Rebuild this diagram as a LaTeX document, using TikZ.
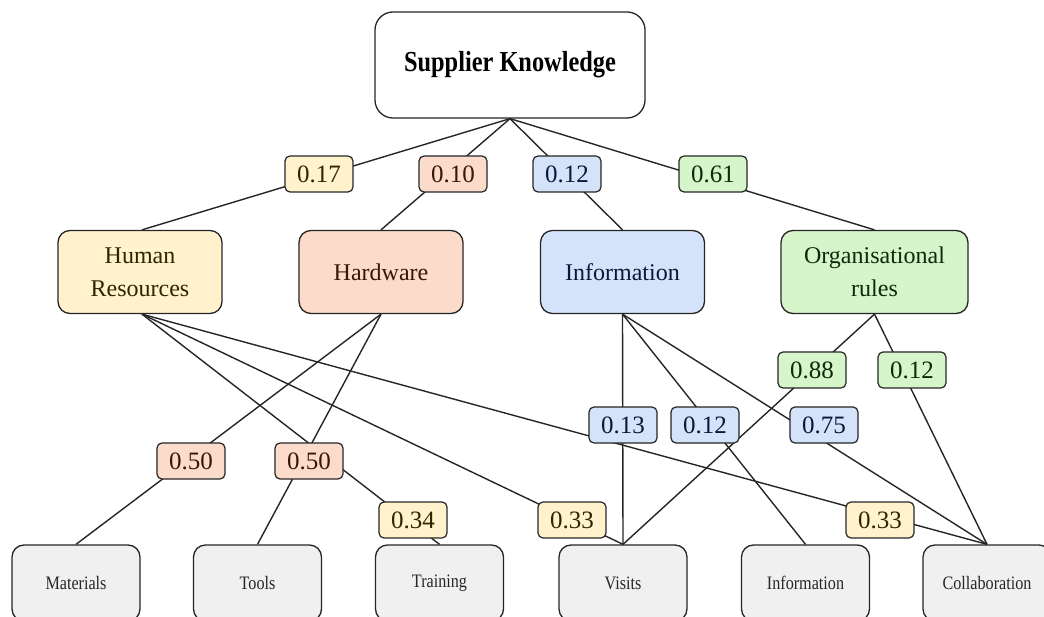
\documentclass[tikz,border=0pt]{standalone}
\usepackage{fontspec}
\setmainfont{Liberation Serif}
\newfontfamily\titlefont{Liberation Serif Bold}[FakeStretch=0.84]
\newfontfamily\leaffont{Liberation Serif}[FakeStretch=0.85]

\definecolor{hrfill}{HTML}{FFF2CC}
\definecolor{hwfill}{HTML}{FBDCCB}
\definecolor{infofill}{HTML}{D4E2FA}
\definecolor{orgfill}{HTML}{D7F5CB}
\definecolor{leaffill}{HTML}{F0F0F0}
\definecolor{edgecol}{HTML}{262626}
\definecolor{hrtext}{HTML}{2E2600}
\definecolor{hwtext}{HTML}{3A1608}
\definecolor{infotext}{HTML}{0C1838}
\definecolor{orgtext}{HTML}{0E2A0A}

\tikzset{
  box/.style={draw=edgecol, line width=1.3pt, rounded corners=12pt, align=center,
    inner sep=0pt},
  rootbox/.style={box, rounded corners=18pt, minimum width=270pt, minimum height=106pt,
    font=\titlefont\fontsize{29}{34}\selectfont},
  catbox/.style={box, minimum width=164pt, minimum height=83pt,
    font=\fontsize{24}{33}\selectfont},
  leafbox/.style={box, fill=leaffill, minimum width=128pt, minimum height=76pt,
    font=\leaffont\fontsize{19}{22}\selectfont, text=black!85},
  weight/.style={draw=edgecol, line width=1.2pt, rounded corners=5pt, minimum width=68pt,
    minimum height=36pt, inner sep=0pt, font=\fontsize{25}{30}\selectfont},
  hrw/.style={weight, fill=hrfill, text=hrtext},
  hww/.style={weight, fill=hwfill, text=hwtext},
  infow/.style={weight, fill=infofill, text=infotext},
  orgw/.style={weight, fill=orgfill, text=orgtext},
  link/.style={draw=edgecol, line width=1.4pt}
}

\begin{document}
\begin{tikzpicture}[x=1pt, y=-1pt]
  \useasboundingbox (0,0) rectangle (1044,617);
  \fill[white] (0,0) rectangle (1044,617);

  % root
  \node[rootbox, fill=white] (root) at (510,65) {Supplier Knowledge};

  % categories
  \node[catbox, fill=hrfill, text=hrtext] (hr) at (140,272) {Human\\Resources};
  \node[catbox, fill=hwfill, text=hwtext] (hw) at (381,272) {Hardware};
  \node[catbox, fill=infofill, text=infotext] (info) at (622.5,272) {Information};
  \node[catbox, fill=orgfill, text=orgtext, minimum width=187pt] (org) at (874.5,272) {Organisational\\rules};

  % leaves
  \node[leafbox] (mat) at (76,583) {Materials};
  \node[leafbox] (tools) at (257.5,583) {Tools};
  \node[leafbox] (train) at (439.5,583) {Training};
  \node[leafbox] (visits) at (623,583) {Visits};
  \node[leafbox] (infob) at (805.5,583) {Information};
  \node[leafbox] (collab) at (987,583) {Collaboration};

  % connectors
  \draw[link] (root.south) -- ([xshift=2pt]hr.north);
  \draw[link] (root.south) -- (hw.north);
  \draw[link] (root.south) -- (info.north);
  \draw[link] (root.south) -- (org.north);

  \draw[link] (hw.south) -- (mat.north);
  \draw[link] (hw.south) -- (tools.north);

  \draw[link] ([xshift=2pt]hr.south) -- (train.north);
  \draw[link] ([xshift=2pt]hr.south) -- (visits.north);
  \draw[link] ([xshift=2pt]hr.south) -- (collab.north);

  \draw[link] (info.south) -- (visits.north);
  \draw[link] (info.south) -- (infob.north);
  \draw[link] (info.south) -- (collab.north);

  \draw[link] (org.south) -- (visits.north);
  \draw[link] (org.south) -- (collab.north);

  % weights
  \node[hrw] (w-hr) at (319,174) {0.17};
  \node[hww] (w-hw) at (453,174) {0.10};
  \node[infow] (w-info) at (567,174) {0.12};
  \node[orgw] (w-org) at (713,174) {0.61};

  \node[hww] (w-mat) at (191,461) {0.50};
  \node[hww] (w-tools) at (309,461) {0.50};
  \node[hrw] (w-train) at (413,520) {0.34};
  \node[hrw] (w-visits) at (572,520) {0.33};
  \node[hrw] (w-collab) at (880,520) {0.33};

  \node[infow] (wi-visits) at (623,425) {0.13};
  \node[infow] (wi-infob) at (705,425) {0.12};
  \node[infow] (wi-collab) at (824,425) {0.75};

  \node[orgw] (wo-visits) at (812,370) {0.88};
  \node[orgw] (wo-collab) at (912,370) {0.12};
\end{tikzpicture}
\end{document}
